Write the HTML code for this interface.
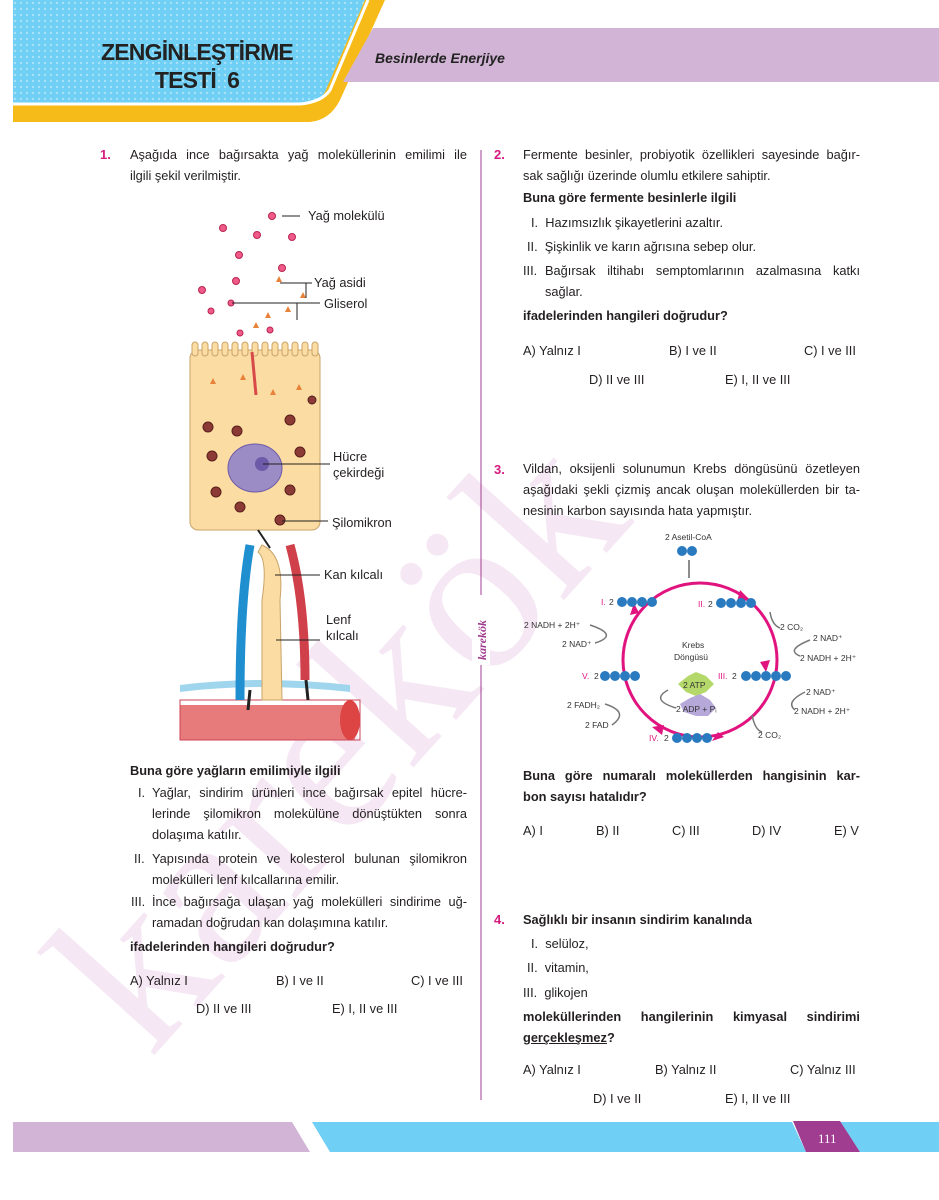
<!DOCTYPE html>
<html><head><meta charset="utf-8">
<style>
body{margin:0;width:939px;height:1200px;position:relative;background:#fff;font-family:"Liberation Sans",sans-serif;color:#231f20;overflow:hidden}
.t{position:absolute;font-size:12.8px;line-height:16px;white-space:nowrap}
.p{position:absolute;font-size:12.8px;line-height:21px}
.p div{white-space:nowrap}
.p .f{text-align:justify;text-align-last:justify}
.n{position:absolute;font-size:13px;font-weight:bold;color:#d6197f}
</style></head><body>
<svg width="939" height="1200" style="position:absolute;left:0;top:0">
<defs><pattern id="d" width="6" height="6" patternUnits="userSpaceOnUse"><rect width="6" height="6" fill="#6fcff4"/><circle cx="3" cy="3" r="1.2" fill="#a6e2f8"/></pattern></defs>
<text x="0" y="0" transform="translate(150,1060) rotate(-48)" font-family="Liberation Serif,serif" font-size="225" fill="#f5e8f4">karekök</text>
<path d="M13 0 H385 L340 100 Q330 120 310 122 H13 Z" fill="#f6bb18"/>
<path d="M13 0 H365 L325 92 Q318 104 300 104 H13 Z" fill="url(#d)"/>
<path d="M13 104 H300 Q322 102 330 90 L368 0" fill="none" stroke="#fff" stroke-width="3"/>
<path d="M373 28 H939 V82 H343 Z" fill="#d2b4d6"/>
<path d="M13 1122 H292 L310 1152 H13 Z" fill="#d2b4d6"/>
<path d="M312 1122 H792 L806 1152 H330 Z" fill="#6fcff4"/>
<path d="M840 1122 H939 V1152 H860 Z" fill="#6fcff4"/>
<path d="M793 1121 H840 L860 1152 H806 Z" fill="#a13d91"/>
<text x="818" y="1143" font-family="Liberation Serif,serif" font-size="13" fill="#fff">111</text>
<line x1="481" y1="150" x2="481" y2="1100" stroke="#a13d91" stroke-width="1"/>
<rect x="472" y="595" width="18" height="70" fill="#fff"/>
<text transform="translate(486,660) rotate(-90)" font-family="Liberation Serif,serif" font-style="italic" font-weight="bold" font-size="12" fill="#a13d91">karekök</text>

<g>
<rect x="190" y="350" width="130" height="180" rx="8" fill="#fbdca2" stroke="#c9a36a"/>
<g fill="#fbdca2" stroke="#c9a36a">
<rect x="192" y="342" width="6" height="14" rx="3"/><rect x="202" y="342" width="6" height="14" rx="3"/><rect x="212" y="342" width="6" height="14" rx="3"/><rect x="222" y="342" width="6" height="14" rx="3"/><rect x="232" y="342" width="6" height="14" rx="3"/><rect x="242" y="342" width="6" height="14" rx="3"/><rect x="252" y="342" width="6" height="14" rx="3"/><rect x="262" y="342" width="6" height="14" rx="3"/><rect x="272" y="342" width="6" height="14" rx="3"/><rect x="282" y="342" width="6" height="14" rx="3"/><rect x="292" y="342" width="6" height="14" rx="3"/><rect x="302" y="342" width="6" height="14" rx="3"/><rect x="312" y="342" width="6" height="14" rx="3"/>
</g>
<ellipse cx="255" cy="468" rx="27" ry="24" fill="#9b8cc6" stroke="#6d5aa8"/>
<circle cx="262" cy="464" r="7" fill="#6d5aa8"/>
<g fill="#8b3a35" stroke="#5a1f1c">
<circle cx="208" cy="427" r="5"/><circle cx="237" cy="431" r="5"/><circle cx="290" cy="420" r="5"/><circle cx="212" cy="456" r="5"/><circle cx="300" cy="452" r="5"/><circle cx="216" cy="492" r="5"/><circle cx="240" cy="507" r="5"/><circle cx="290" cy="490" r="5"/><circle cx="280" cy="520" r="5"/><circle cx="312" cy="400" r="4"/>
<circle cx="272" cy="568" r="5"/><circle cx="272" cy="605" r="5"/><circle cx="274" cy="636" r="5"/><circle cx="275" cy="660" r="5"/><circle cx="268" cy="722" r="6"/>
</g>
<path d="M180 685 Q260 675 350 685 V692 Q260 682 180 692Z" fill="#9fd6ee"/>
<path d="M180 705 H355 V740 H180Z" fill="#e77a7a"/>
<rect x="180" y="700" width="180" height="40" fill="none" stroke="#c45"/>
<ellipse cx="350" cy="720" rx="10" ry="20" fill="#d44"/>
<path d="M250 545 Q240 600 240 700" stroke="#1f8fd0" stroke-width="9" fill="none"/>
<path d="M290 545 Q305 600 305 680" stroke="#d0404a" stroke-width="9" fill="none"/>
<path d="M262 545 Q285 555 280 600 L282 700 H262 L262 600 Q268 560 258 552Z" fill="#fbdca2" stroke="#c9a36a"/>
<path d="M258 530 L270 548" stroke="#222" stroke-width="2"/>
<path d="M250 690 L248 710" stroke="#222" stroke-width="3"/>
<path d="M308 700 L306 680" stroke="#222" stroke-width="3"/>
<g fill="#f05a8a" stroke="#b8264f">
<circle cx="272" cy="216" r="3.5"/><circle cx="223" cy="228" r="3.5"/><circle cx="257" cy="235" r="3.5"/><circle cx="239" cy="255" r="3.5"/><circle cx="292" cy="237" r="3.5"/><circle cx="282" cy="268" r="3.5"/><circle cx="236" cy="281" r="3.5"/><circle cx="202" cy="290" r="3.5"/><circle cx="240" cy="333" r="3"/><circle cx="270" cy="330" r="3"/><circle cx="211" cy="311" r="3"/><circle cx="231" cy="303" r="3"/></g>
<g fill="#e8823a"><path d="M276 282 l3 -6 l3 6z"/><path d="M300 298 l3 -6 l3 6z"/><path d="M265 318 l3 -6 l3 6z"/><path d="M285 312 l3 -6 l3 6z"/><path d="M253 328 l3 -6 l3 6z"/><path d="M240 380 l3 -6 l3 6z"/><path d="M270 395 l3 -6 l3 6z"/><path d="M296 390 l3 -6 l3 6z"/><path d="M210 384 l3 -6 l3 6z"/></g>
<path d="M252 352 L256 395" stroke="#d84a4a" stroke-width="3"/>
<g stroke="#222" stroke-width="1" fill="none">
<line x1="282" y1="216" x2="300" y2="216"/><line x1="280" y1="283" x2="312" y2="283"/><line x1="306" y1="283" x2="306" y2="298"/><line x1="232" y1="303" x2="320" y2="303"/><line x1="297" y1="303" x2="297" y2="320"/><line x1="263" y1="464" x2="330" y2="464"/><line x1="282" y1="521" x2="328" y2="521"/><line x1="275" y1="575" x2="320" y2="575"/><line x1="276" y1="640" x2="320" y2="640"/></g>
</g>

<g>
<circle cx="700" cy="660" r="77" fill="none" stroke="#e0137f" stroke-width="3"/>
<g fill="#e0137f"><path d="M740 590 l10 10 l-13 2z"/><path d="M770 660 l-4 12 l-6 -10z"/><path d="M724 737 l-12 4 l6 -9z"/><path d="M662 735 l-10 -8 l12 -2z"/><path d="M630 615 l4 -12 l5 10z"/></g>
<g font-family="Liberation Sans,sans-serif" font-size="8.5" fill="#333">
<text x="665" y="540">2 Asetil-CoA</text>
<text x="682" y="648">Krebs</text><text x="674" y="660">Döngüsü</text>
<text x="524" y="628">2 NADH + 2H⁺</text><text x="562" y="647">2 NAD⁺</text>
<text x="780" y="630">2 CO₂</text><text x="813" y="641">2 NAD⁺</text><text x="800" y="661">2 NADH + 2H⁺</text>
<text x="806" y="695">2 NAD⁺</text><text x="794" y="714">2 NADH + 2H⁺</text><text x="758" y="738">2 CO₂</text>
<text x="567" y="708">2 FADH₂</text><text x="585" y="728">2 FAD</text>
<text x="601" y="605" fill="#e0137f">I.</text><text x="609" y="605">2</text>
<text x="698" y="607" fill="#e0137f">II.</text><text x="708" y="607">2</text>
<text x="718" y="679" fill="#e0137f">III.</text><text x="732" y="679">2</text>
<text x="582" y="679" fill="#e0137f">V.</text><text x="594" y="679">2</text>
<text x="649" y="741" fill="#e0137f">IV.</text><text x="664" y="741">2</text>
</g>
<polygon points="688,676 696,672 706,676 714,684 706,692 696,696 686,692 678,684" fill="#b5d86a"/>
<polygon points="690,698 700,694 710,700 716,708 708,716 696,716 684,712 680,704" fill="#b6a8d8"/>
<text x="683" y="688" font-size="8.5" fill="#333">2 ATP</text><text x="676" y="712" font-size="8.5" fill="#333">2 ADP + Pᵢ</text>
<g fill="#2a7ac0">
<circle cx="682" cy="551" r="5"/><circle cx="692" cy="551" r="5"/>
<circle cx="622" cy="602" r="5"/><circle cx="632" cy="602" r="5"/><circle cx="642" cy="602" r="5"/><circle cx="652" cy="602" r="5"/>
<circle cx="721" cy="603" r="5"/><circle cx="731" cy="603" r="5"/><circle cx="741" cy="603" r="5"/><circle cx="751" cy="603" r="5"/>
<circle cx="746" cy="676" r="5"/><circle cx="756" cy="676" r="5"/><circle cx="766" cy="676" r="5"/><circle cx="776" cy="676" r="5"/><circle cx="786" cy="676" r="5"/>
<circle cx="605" cy="676" r="5"/><circle cx="615" cy="676" r="5"/><circle cx="625" cy="676" r="5"/><circle cx="635" cy="676" r="5"/>
<circle cx="677" cy="738" r="5"/><circle cx="687" cy="738" r="5"/><circle cx="697" cy="738" r="5"/><circle cx="707" cy="738" r="5"/>
</g>
<line x1="689" y1="560" x2="689" y2="578" stroke="#666" stroke-width="1.5"/>
<g stroke="#777" stroke-width="1.5" fill="none">
<path d="M595 643 Q620 635 590 625"/><path d="M770 612 Q772 625 780 628"/><path d="M810 640 Q785 650 800 656"/><path d="M805 692 Q785 702 795 710"/><path d="M752 715 Q755 730 762 732"/><path d="M612 725 Q630 712 605 704"/><path d="M676 708 Q650 700 668 690"/>
</g>
</g>
</svg>

<div style="position:absolute;left:92px;top:38px;width:210px;text-align:center;font-weight:bold;font-size:23px;line-height:28px;color:#222;letter-spacing:-0.8px">ZENGİNLEŞTİRME<br>TESTİ&nbsp; 6</div>
<div style="position:absolute;left:375px;top:50px;font-weight:bold;font-style:italic;font-size:14px;color:#222">Besinlerde Enerjiye</div>

<div class="n" style="left:100px;top:147px">1.</div>
<div class="p" style="left:130px;top:144px;width:337px"><div class="f">Aşağıda ince bağırsakta yağ moleküllerinin emilimi ile</div><div>ilgili şekil verilmiştir.</div></div>
<div class="t" style="left:308px;top:208px">Yağ molekülü</div>
<div class="t" style="left:314px;top:275px">Yağ asidi</div>
<div class="t" style="left:324px;top:296px">Gliserol</div>
<div class="t" style="left:333px;top:449px">Hücre<br>çekirdeği</div>
<div class="t" style="left:332px;top:515px">Şilomikron</div>
<div class="t" style="left:324px;top:567px">Kan kılcalı</div>
<div class="t" style="left:326px;top:612px">Lenf<br>kılcalı</div>
<div class="t" style="left:130px;top:763px;font-weight:bold">Buna göre yağların emilimiyle ilgili</div>
<div class="t" style="left:138px;top:785px">I.</div>
<div class="p" style="left:152px;top:782px;width:315px"><div class="f">Yağlar, sindirim ürünleri ince bağırsak epitel hücre-</div><div class="f">lerinde şilomikron molekülüne dönüştükten sonra</div><div>dolaşıma katılır.</div></div>
<div class="t" style="left:134px;top:851px">II.</div>
<div class="p" style="left:152px;top:848px;width:315px"><div class="f">Yapısında protein ve kolesterol bulunan şilomikron</div><div>molekülleri lenf kılcallarına emilir.</div></div>
<div class="t" style="left:131px;top:894px">III.</div>
<div class="p" style="left:152px;top:891px;width:315px"><div class="f">İnce bağırsağa ulaşan yağ molekülleri sindirime uğ-</div><div>ramadan doğrudan kan dolaşımına katılır.</div></div>
<div class="t" style="left:130px;top:939px;font-weight:bold">ifadelerinden hangileri doğrudur?</div>
<div class="t" style="left:130px;top:973px">A) Yalnız I</div><div class="t" style="left:276px;top:973px">B) I ve II</div><div class="t" style="left:411px;top:973px">C) I ve III</div>
<div class="t" style="left:196px;top:1001px">D) II ve III</div><div class="t" style="left:332px;top:1001px">E) I, II ve III</div>

<div class="n" style="left:494px;top:147px">2.</div>
<div class="p" style="left:523px;top:144px;width:337px"><div class="f">Fermente besinler, probiyotik özellikleri sayesinde bağır-</div><div>sak sağlığı üzerinde olumlu etkilere sahiptir.</div></div>
<div class="t" style="left:523px;top:190px;font-weight:bold">Buna göre fermente besinlerle ilgili</div>
<div class="t" style="left:531px;top:215px">I.&nbsp; Hazımsızlık şikayetlerini azaltır.</div>
<div class="t" style="left:527px;top:239px">II.&nbsp; Şişkinlik ve karın ağrısına sebep olur.</div>
<div class="t" style="left:523px;top:263px">III.</div>
<div class="p" style="left:545px;top:260px;width:315px"><div class="f">Bağırsak iltihabı semptomlarının azalmasına katkı</div><div>sağlar.</div></div>
<div class="t" style="left:523px;top:308px;font-weight:bold">ifadelerinden hangileri doğrudur?</div>
<div class="t" style="left:523px;top:343px">A) Yalnız I</div><div class="t" style="left:669px;top:343px">B) I ve II</div><div class="t" style="left:804px;top:343px">C) I ve III</div>
<div class="t" style="left:589px;top:372px">D) II ve III</div><div class="t" style="left:725px;top:372px">E) I, II ve III</div>

<div class="n" style="left:494px;top:462px">3.</div>
<div class="p" style="left:523px;top:458px;width:337px"><div class="f">Vildan, oksijenli solunumun Krebs döngüsünü özetleyen</div><div class="f">aşağıdaki şekli çizmiş ancak oluşan moleküllerden bir ta-</div><div>nesinin karbon sayısında hata yapmıştır.</div></div>
<div class="p" style="left:523px;top:765px;width:337px;font-weight:bold"><div class="f">Buna göre numaralı moleküllerden hangisinin kar-</div><div>bon sayısı hatalıdır?</div></div>
<div class="t" style="left:523px;top:823px">A) I</div><div class="t" style="left:596px;top:823px">B) II</div><div class="t" style="left:672px;top:823px">C) III</div><div class="t" style="left:752px;top:823px">D) IV</div><div class="t" style="left:834px;top:823px">E) V</div>

<div class="n" style="left:494px;top:912px">4.</div>
<div class="t" style="left:523px;top:912px;font-weight:bold">Sağlıklı bir insanın sindirim kanalında</div>
<div class="t" style="left:531px;top:936px">I.&nbsp; selüloz,</div>
<div class="t" style="left:527px;top:960px">II.&nbsp; vitamin,</div>
<div class="t" style="left:523px;top:985px">III.&nbsp; glikojen</div>
<div class="p" style="left:523px;top:1006px;width:337px;font-weight:bold"><div class="f">moleküllerinden hangilerinin kimyasal sindirimi</div><div><u>gerçekleşmez</u>?</div></div>
<div class="t" style="left:523px;top:1062px">A) Yalnız I</div><div class="t" style="left:655px;top:1062px">B) Yalnız II</div><div class="t" style="left:790px;top:1062px">C) Yalnız III</div>
<div class="t" style="left:593px;top:1091px">D) I ve II</div><div class="t" style="left:725px;top:1091px">E) I, II ve III</div>
</body></html>
